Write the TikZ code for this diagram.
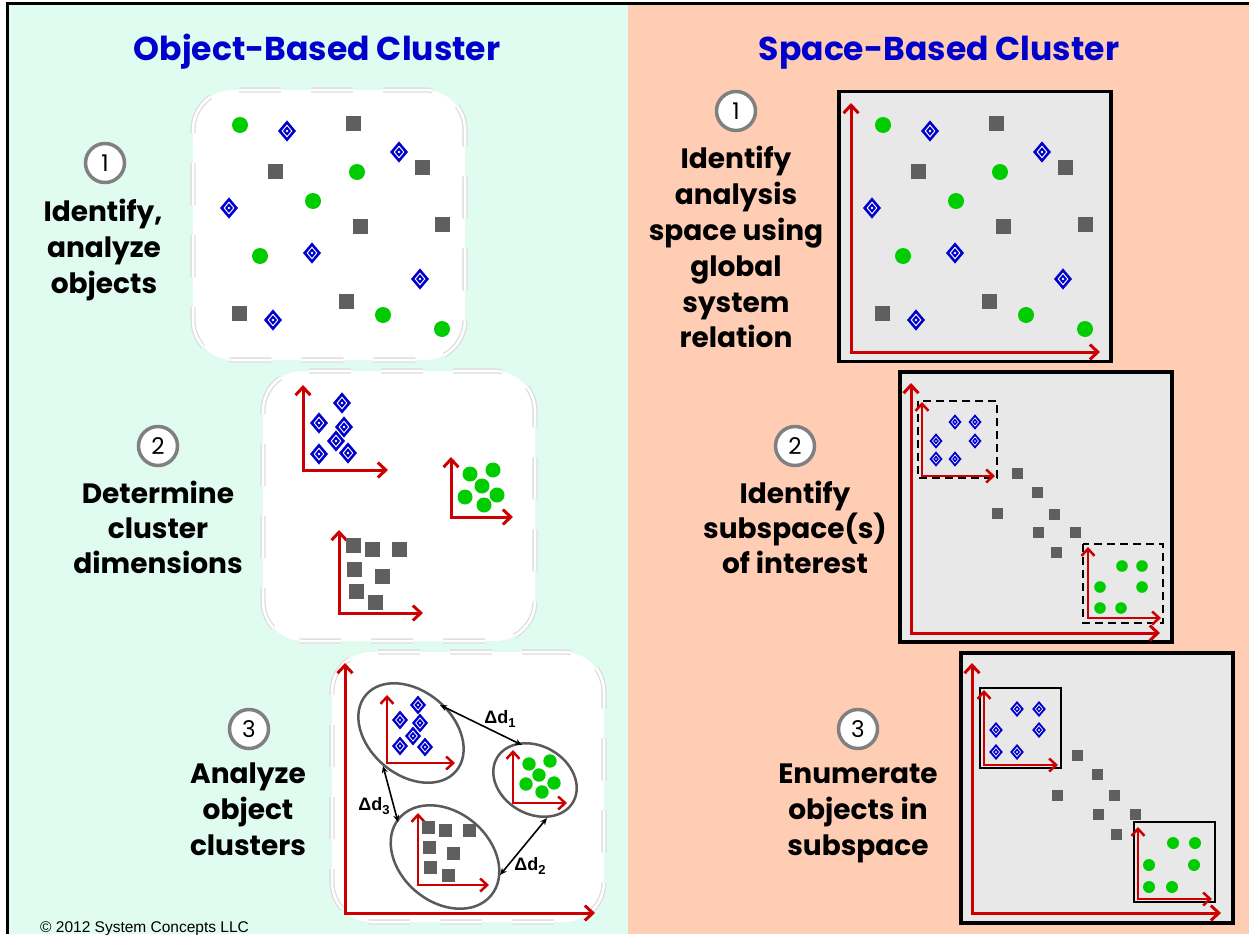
\documentclass[tikz,border=0pt]{standalone}
\usepackage{fontspec}
\setmainfont{Poppins}
\newfontfamily\arialf{Liberation Sans}
\usetikzlibrary{arrows.meta,shapes.geometric}
\definecolor{mint}{HTML}{E0FBEF}
\definecolor{peach}{HTML}{FFCDB4}
\definecolor{titleblue}{HTML}{0000CC}
\definecolor{axred}{HTML}{CC0000}
\definecolor{ballgreen}{HTML}{00CC00}
\definecolor{sqgray}{HTML}{5F5F5F}
\definecolor{diablue}{HTML}{0000CC}
\definecolor{spacegray}{HTML}{E8E8E8}
\definecolor{ringgray}{HTML}{808080}
\definecolor{ellgray}{HTML}{5A5A5A}
\definecolor{softgray}{HTML}{DDDDDD}
\newcommand\greenball[3]{\fill[ballgreen] (#1,#2) circle (#3);}
\newcommand\graysq[3]{\fill[sqgray] (#1-#3/2,#2-#3/2) rectangle (#1+#3/2,#2+#3/2);}
\newcommand\bluedia[3]{\begin{scope}[shift={(#1,#2)},scale=#3]
 \fill[diablue] (-1,0)--(0,-1.18)--(1,0)--(0,1.18)--cycle;
 \fill[white] (-0.6,0)--(0,-0.72)--(0.6,0)--(0,0.72)--cycle;
 \fill[diablue] (-0.44,0)--(0,-0.53)--(0.44,0)--(0,0.53)--cycle;
 \fill[white] (0,0) circle (0.15);
\end{scope}}
\newcommand\scatterone{%
 \greenball{240}{125}{8}\greenball{357}{172}{8}\greenball{313}{201}{8}
 \greenball{260}{256}{8}\greenball{383}{315}{8}\greenball{442}{329}{8}
 \graysq{353}{123}{15}\graysq{275}{171}{15}\graysq{422}{167}{15}
 \graysq{360}{226}{15}\graysq{442}{224}{15}\graysq{346}{301}{15}\graysq{239}{313}{15}
 \bluedia{287}{131}{9}\bluedia{399}{152}{9}\bluedia{229}{208}{9}
 \bluedia{312}{253}{9}\bluedia{420}{279}{9}\bluedia{273}{320}{9}}
\tikzset{
 paneltitle/.style={text=titleblue, font=\fontsize{33}{33}\selectfont\bfseries, anchor=base, inner sep=0pt},
 steptext/.style={font=\fontsize{28}{28}\selectfont\bfseries, text=black, anchor=base, inner sep=0pt},
 numring/.style={circle, draw=ringgray, line width=3.5pt, fill=white, minimum size=39pt, inner sep=0pt, font=\fontsize{23}{23}\selectfont},
 softbox/.style={rectangle, rounded corners=40pt, fill=white, draw=softgray, line width=1.3pt, double=white, double distance=2.5pt, dash pattern=on 42pt off 30pt, inner sep=0pt, minimum width=272pt, minimum height=270pt},
 spacebox/.style={rectangle, fill=spacegray, draw=black, line width=3.5pt, inner sep=0pt, minimum width=272pt, minimum height=270pt},
 axis/.style={draw=axred, line width=3pt, <->, >={Straight Barb[length=8pt,width=15pt]}},
 smallaxis/.style={draw=axred, line width=2.5pt, <->, >={Straight Barb[length=7pt,width=13pt]}},
 clusterell/.style={ellipse, draw=ellgray, line width=2.5pt, fill=white, inner sep=0pt},
 dist/.style={draw=black, line width=1.6pt, <->, >={Stealth[length=7pt,width=6pt]}},
 distlabel/.style={font=\arialf\bfseries\fontsize{18}{18}\selectfont, inner sep=0pt},
 subbox/.style={draw=black, line width=2.5pt},
 dashedsub/.style={draw=black, line width=2.5pt, dash pattern=on 8pt off 5pt},
}
\begin{document}
\begin{tikzpicture}[x=1pt,y=-1pt]
\useasboundingbox (0,0) rectangle (1249,934);
\fill[white] (0,0) rectangle (1249,934);
\fill[mint] (7,4) rectangle (628,934);
\fill[peach] (628,4) rectangle (1249,934);
\draw[line width=3pt] (7,934) -- (7,4) -- (1249,4);

% titles
\node[paneltitle] (tobj) at (317,60) {Object-Based Cluster};
\node[paneltitle] (tspace) at (939,60) {Space-Based Cluster};

% ---------- left panel ----------
\node[softbox] (ob1) at (329,225) {};
\node[softbox] (ob2) at (399,506) {};
\node[softbox] (ob3) at (468,787) {};

\node[numring] (n1l) at (105,163) {1};
\node[steptext] (l1a) at (103,221) {Identify,};
\node[steptext] (l1b) at (104,257) {analyze};
\node[steptext] (l1c) at (104,293) {objects};

\node[numring] (n2l) at (158,446) {2};
\node[steptext] (l2a) at (158,503) {Determine};
\node[steptext] (l2b) at (158,538) {cluster};
\node[steptext] (l2c) at (158,573) {dimensions};

\node[numring] (n3l) at (249,729) {3};
\node[steptext] (l3a) at (248,783) {Analyze};
\node[steptext] (l3b) at (248,819) {object};
\node[steptext] (l3c) at (248,855) {clusters};

% box 1 scatter
\scatterone

% box 2
\draw[axis] (303,385) |- (388,470);
\draw[axis] (451,457) |- (513,517);
\draw[axis] (339,530) |- (423,613);
\bluedia{342}{403}{9}\bluedia{319}{423}{9}\bluedia{344}{427}{9}
\bluedia{336}{441}{9}\bluedia{319}{454}{9}\bluedia{348}{453}{9}
\greenball{470}{474}{7.5}\greenball{493}{470}{7.5}\greenball{482}{486}{7.5}
\greenball{465}{497}{7.5}\greenball{497}{495}{7.5}\greenball{484}{505}{7.5}
\graysq{353}{545}{15}\graysq{372}{549}{15}\graysq{399}{549}{15}
\graysq{354}{569}{15}\graysq{382}{576}{15}\graysq{356}{591}{15}\graysq{375}{602}{15}

% box 3
\draw[axis] (345,663) |- (595,913);
\node[clusterell, minimum width=118pt, minimum height=84pt, rotate=-40] (eblue) at (411,733) {};
\node[clusterell, minimum width=88pt, minimum height=68pt, rotate=-30] (egreen) at (535,780) {};
\node[clusterell, minimum width=120pt, minimum height=90pt, rotate=-40] (egray) at (445,857) {};
\draw[smallaxis] (387,695) |- (455,763);
\draw[smallaxis] (513,750) |- (567,803);
\draw[smallaxis] (418,813) |- (489,885);
\bluedia{418}{705}{8}\bluedia{400}{720}{8}\bluedia{420}{723}{8}
\bluedia{413}{736}{8}\bluedia{400}{746}{8}\bluedia{425}{747}{8}
\greenball{529}{764}{6.7}\greenball{550}{761}{6.7}\greenball{539}{775}{6.7}
\greenball{526}{784}{6.7}\greenball{554}{783}{6.7}\greenball{542}{792}{6.7}
\graysq{428}{827}{13}\graysq{445}{830}{13}\graysq{469}{830}{13}
\graysq{429}{847}{13}\graysq{453}{853}{13}\graysq{430}{867}{13}\graysq{448}{875}{13}

\coordinate (d1a) at (440,705);
\coordinate (d1b) at (522,745);
\coordinate (d2a) at (500,875);
\coordinate (d2b) at (547,818);
\coordinate (d3a) at (383,766);
\coordinate (d3b) at (398,822);
\draw[dist] (d1a) -- (d1b);
\draw[dist] (d2a) -- (d2b);
\draw[dist] (d3a) -- (d3b);
\node[distlabel] (ld1) at (500,719) {Δd\raisebox{-4pt}{\fontsize{13}{13}\selectfont 1}};
\node[distlabel] (ld2) at (530,866) {Δd\raisebox{-4pt}{\fontsize{13}{13}\selectfont 2}};
\node[distlabel] (ld3) at (374,806) {Δd\raisebox{-4pt}{\fontsize{13}{13}\selectfont 3}};

\node[anchor=base west, inner sep=0pt, font=\arialf\fontsize{15.5}{15.5}\selectfont] (copy) at (40,932) {© 2012 System Concepts LLC};

% ---------- right panel ----------
\node[spacebox] (sb1) at (975,226.5) {};
\node[spacebox] (sb2) at (1036,507) {};
\node[spacebox] (sb3) at (1097,788) {};

\node[numring] (n1r) at (736,111) {1};
\node[steptext] (r1a) at (736,168) {Identify};
\node[steptext] (r1b) at (736,204) {analysis};
\node[steptext] (r1c) at (736,240) {space using};
\node[steptext] (r1d) at (736,276) {global};
\node[steptext] (r1e) at (736,312) {system};
\node[steptext] (r1f) at (736,347) {relation};

\node[numring] (n2r) at (795,446) {2};
\node[steptext] (r2a) at (795,503) {Identify};
\node[steptext] (r2b) at (795,538) {subspace(s)};
\node[steptext] (r2c) at (795,573) {of interest};

\node[numring] (n3r) at (858,729) {3};
\node[steptext] (r3a) at (858,783) {Enumerate};
\node[steptext] (r3b) at (858,819) {objects in};
\node[steptext] (r3c) at (858,855) {subspace};

% space box 1
\draw[axis] (851,103) |- (1100,352);
\begin{scope}[shift={(643,0)}]
\scatterone
\end{scope}

% space box 2
\draw[dashedsub] (918,401) rectangle (997,478);
\draw[dashedsub] (1083,544) rectangle (1163,623);
\draw[axis] (911,383) |- (1160,633);
\draw[smallaxis] (922,402) |- (995,476);
\draw[smallaxis] (1088,547) |- (1161,618);
\bluedia{955}{422}{6.5}\bluedia{975}{422}{6.5}\bluedia{936}{441}{6.5}
\bluedia{975}{441}{6.5}\bluedia{936}{459}{6.5}\bluedia{955}{459}{6.5}
\graysq{1017}{473}{11}\graysq{1037}{492}{11}\graysq{997}{513}{11}
\graysq{1054}{514}{11}\graysq{1038}{532}{11}\graysq{1075}{532}{11}\graysq{1056}{552}{11}
\greenball{1122}{566}{5.8}\greenball{1142}{566}{5.8}\greenball{1100}{587}{5.8}
\greenball{1142}{587}{5.8}\greenball{1100}{608}{5.8}\greenball{1121}{608}{5.8}

% space box 3
\draw[subbox] (980,688) rectangle (1061,768);
\draw[subbox] (1134,822) rectangle (1215,902);
\draw[axis] (972,663) |- (1221,913);
\draw[smallaxis] (984,690) |- (1058,765);
\draw[smallaxis] (1138,827) |- (1212,899);
\bluedia{1017}{709}{6.8}\bluedia{1039}{709}{6.8}\bluedia{996}{730}{6.8}
\bluedia{1039}{730}{6.8}\bluedia{996}{752}{6.8}\bluedia{1017}{752}{6.8}
\graysq{1077}{755}{11}\graysq{1097}{774}{11}\graysq{1057}{795}{11}
\graysq{1114}{795}{11}\graysq{1098}{814}{11}\graysq{1135}{814}{11}\graysq{1116}{834}{11}
\greenball{1173}{843}{6}\greenball{1195}{843}{6}\greenball{1149}{865}{6}
\greenball{1194}{865}{6}\greenball{1149}{887}{6}\greenball{1172}{887}{6}
\end{tikzpicture}
\end{document}
